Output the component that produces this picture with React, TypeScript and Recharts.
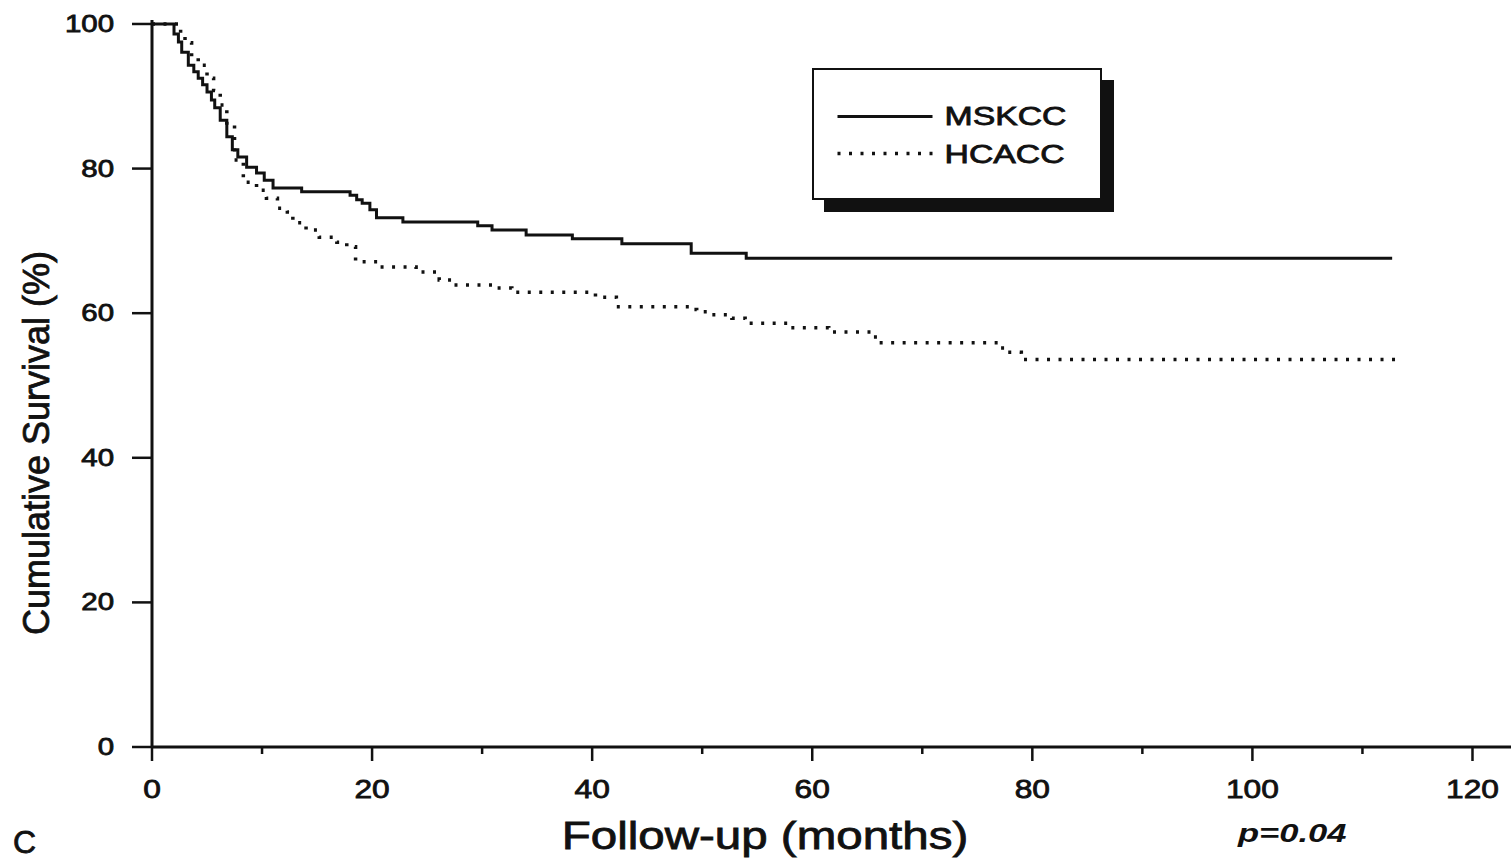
import { LineChart, Line, XAxis, YAxis } from "recharts";

// Kaplan-Meier curves (months, % surviving)
const seriesNames = ["MSKCC", "HCACC"];

const mskccMonths = [
  0, 1.45, 2.0, 2.4, 2.7, 3.3, 3.8, 4.2, 4.6, 5.0, 5.4, 5.7, 6.2, 6.8, 7.3, 7.8,
  8.6, 9.5, 10.2, 11.0, 13.6, 18.0, 18.6, 19.1, 19.8, 20.4, 22.8, 29.6, 30.9,
  34.0, 38.2, 42.7, 49.0, 54.0, 112.7,
];
const mskccSurvival = [
  100, 100, 98.6, 97.5, 96.1, 94.3, 93.4, 92.5, 91.6, 90.6, 89.5, 88.4, 86.7,
  84.4, 82.6, 81.6, 80.2, 79.4, 78.4, 77.3, 76.8, 76.3, 75.7, 75.2, 74.3, 73.2,
  72.6, 72.1, 71.5, 70.8, 70.3, 69.6, 68.3, 67.6, 67.6,
];

const hcaccMonths = [
  0, 2.2, 2.6, 3.0, 3.6, 4.2, 5.0, 5.6, 6.2, 6.8, 7.5, 8.3, 9.5, 10.4, 11.4,
  12.3, 12.8, 14.0, 15.2, 16.8, 17.7, 18.5, 20.5, 24.0, 26.1, 27.3, 31.0, 32.7,
  40.3, 42.2, 48.9, 49.5, 50.9, 52.7, 53.9, 57.8, 61.5, 65.4, 66.0, 77.1, 77.8,
  79.0, 113.4,
];
const hcaccSurvival = [
  100, 100, 98.6, 97.4, 95.4, 94.3, 92.5, 90.8, 88.8, 86.0, 81.2, 78.1, 77.0,
  75.9, 74.5, 74.0, 72.5, 71.5, 70.5, 69.8, 69.2, 67.1, 66.4, 65.7, 64.6, 63.9,
  63.5, 62.9, 62.2, 60.9, 60.5, 60.2, 59.8, 59.3, 58.6, 58.0, 57.4, 56.7, 55.9,
  55.2, 54.6, 53.6, 53.6,
];

const xTicks = [0, 10, 20, 30, 40, 50, 60, 70, 80, 90, 100, 110, 120];
const yTicks = [0, 20, 40, 60, 80, 100];

const toPoints = (months: number[], surv: number[]) =>
  months.map((m, i) => ({ month: m, survival: surv[i] }));

const mskccData = toPoints(mskccMonths, mskccSurvival);
const hcaccData = toPoints(hcaccMonths, hcaccSurvival);

const FONT = '"Liberation Sans", Arial, Helvetica, sans-serif';
const INK = "#111";
const DOTS = "3 8.5";
// the scanned figure has heavy type, so text gets a thin outline
const heavy = { stroke: INK, strokeWidth: 0.8 };

const XTick = (props: any) => {
  const { x, y, payload } = props;
  const major = payload.value % 20 === 0;
  return (
    <g>
      <line x1={x} x2={x} y1={y} y2={y + (major ? 14 : 7)} stroke={INK} strokeWidth={2.5} />
      {major && (
        <text
          transform={`translate(${x},${y + 51}) scale(1.22,1)`}
          textAnchor="middle"
          fontSize={26}
          fontFamily={FONT}
          fill={INK}
          {...heavy}
        >
          {payload.value}
        </text>
      )}
    </g>
  );
};

const YTick = (props: any) => {
  const { x, y, payload } = props;
  return (
    <text
      transform={`translate(${x},${y + 8}) scale(1.28,1)`}
      textAnchor="end"
      fontSize={23}
      fontFamily={FONT}
      fill={INK}
      {...heavy}
    >
      {payload.value}
    </text>
  );
};

const XLabel = (props: any) => {
  const { x, y } = props.viewBox;
  return (
    <g fontFamily={FONT} fill={INK}>
      <text
        transform={`translate(${x + 613},${y + 102}) scale(1.25,1)`}
        textAnchor="middle"
        fontSize={38}
        {...heavy}
      >
        Follow-up (months)
      </text>
      <text x={x - 139} y={y + 106} fontSize={32} {...heavy}>
        C
      </text>
      <text
        transform={`translate(${x + 1086},${y + 95}) scale(1.33,1)`}
        fontSize={26}
        fontWeight="bold"
        fontStyle="italic"
      >
        p=0.04
      </text>
    </g>
  );
};

const YLabel = () => (
  <text
    transform="translate(49,443) rotate(-90)"
    textAnchor="middle"
    fontSize={36}
    fontFamily={FONT}
    fill={INK}
    {...heavy}
  >
    Cumulative Survival (%)
  </text>
);

const LegendBox = () => (
  <div
    style={{
      position: "absolute",
      left: 812,
      top: 68,
      width: 290,
      height: 132,
      boxSizing: "border-box",
      border: `2.5px solid ${INK}`,
      background: "#fff",
      boxShadow: `12px 12px 0 0 ${INK}`,
    }}
  >
    <svg width={285} height={127} style={{ position: "absolute", left: 0, top: 0 }}>
      {seriesNames.map((name, i) => (
        <g key={name}>
          <line
            x1={23.5}
            x2={118.5}
            y1={46.5 + i * 37}
            y2={46.5 + i * 37}
            stroke={INK}
            strokeWidth={i === 0 ? 3 : 3.5}
            strokeDasharray={i === 0 ? undefined : DOTS}
          />
          <text
            transform={`translate(130.5,${55 + i * 38}) scale(1.3,1)`}
            fontSize={26}
            fontFamily={FONT}
            fill={INK}
            {...heavy}
          >
            {name}
          </text>
        </g>
      ))}
    </svg>
  </div>
);

export default function App() {
  return (
    <div style={{ position: "absolute", left: 0, top: 0, width: 1511, height: 860, background: "#fff" }}>
      <LineChart width={1511} height={860} margin={{ top: 20, right: 0, bottom: 0, left: 0 }}>
        <XAxis
          type="number"
          dataKey="month"
          domain={[0, 123.5]}
          allowDataOverflow
          ticks={xTicks}
          interval={0}
          height={113}
          tickLine={false}
          tickSize={0}
          tickMargin={0}
          axisLine={{ stroke: INK, strokeWidth: 3 }}
          tick={<XTick />}
          label={{ content: <XLabel /> }}
        />
        <YAxis
          type="number"
          domain={[0, 100.55]}
          allowDataOverflow
          ticks={yTicks}
          interval={0}
          width={152}
          tickSize={20}
          tickMargin={18}
          tickLine={{ stroke: INK, strokeWidth: 2.5 }}
          axisLine={{ stroke: INK, strokeWidth: 3 }}
          tick={<YTick />}
          label={{ content: <YLabel /> }}
        />
        <Line
          data={mskccData}
          dataKey="survival"
          name={seriesNames[0]}
          type="stepAfter"
          stroke={INK}
          strokeWidth={3}
          dot={false}
          activeDot={false}
          isAnimationActive={false}
        />
        <Line
          data={hcaccData}
          dataKey="survival"
          name={seriesNames[1]}
          type="stepAfter"
          stroke={INK}
          strokeWidth={3.5}
          strokeDasharray={DOTS}
          dot={false}
          activeDot={false}
          isAnimationActive={false}
        />
      </LineChart>
      <LegendBox />
    </div>
  );
}
